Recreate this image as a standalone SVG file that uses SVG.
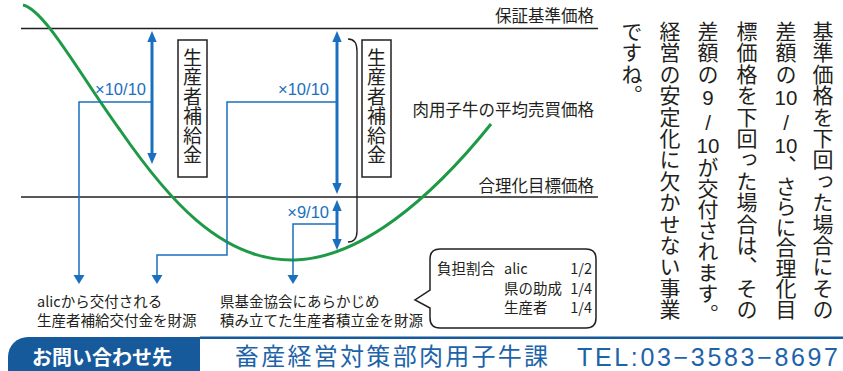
<svg xmlns="http://www.w3.org/2000/svg" width="843" height="371" viewBox="0 0 843 371">
<style>
.jp{font-family:"Noto Sans CJK JP","Noto Sans",sans-serif;fill:#231f20}
.vt{writing-mode:vertical-rl;font-family:"Noto Sans CJK JP",sans-serif;fill:#231f20;font-size:21px;letter-spacing:0.4px}
.vb{writing-mode:vertical-rl;font-family:"Noto Sans CJK JP",sans-serif;fill:#231f20;font-size:19px;letter-spacing:0.5px}
.num{font-family:"Liberation Sans",Arial,sans-serif;fill:#231f20}
.blu{font-family:"Liberation Sans",Arial,sans-serif;fill:#1a70bf;font-size:16.5px}
.hline{stroke:#231f20;stroke-width:1.3;fill:none}
.thick{stroke:#1a70bf;stroke-width:3;fill:none}
.thin{stroke:#1a70bf;stroke-width:1.5;fill:none}
.head{fill:#1a70bf}
.box{fill:#fff;stroke:#231f20;stroke-width:1.5}
</style>
<rect width="843" height="371" fill="#fff"/>

<g id="price-lines">
<line class="hline" x1="21" y1="28.5" x2="598" y2="28.5"/>
<line class="hline" x1="21" y1="197" x2="598" y2="197"/>
<text class="jp" x="594" y="22" font-size="16.5" text-anchor="end">保証基準価格</text>
<text class="jp" x="594" y="192" font-size="16.5" text-anchor="end">合理化目標価格</text>
</g>

<g id="market-curve">
<path d="M23,5 C45,10 80,75 120,130 C165,195 220,262 295,260 C360,258 430,200 491,124" fill="none" stroke="#1e9a46" stroke-width="3"/>
<text class="jp" x="594" y="116" font-size="16.5" text-anchor="end">肉用子牛の平均売買価格</text>
</g>

<g id="connectors">
<line class="thick" x1="152" y1="40" x2="152" y2="155"/>
<polygon class="head" points="152,31 147.3,42 156.7,42"/>
<polygon class="head" points="152,164 147.3,153 156.7,153"/>
<line class="thick" x1="337" y1="40" x2="337" y2="185"/>
<polygon class="head" points="337,31 332.3,42 341.7,42"/>
<polygon class="head" points="337,194 332.3,183 341.7,183"/>
<line class="thick" x1="337" y1="209" x2="337" y2="241"/>
<polygon class="head" points="337,200 332.3,211 341.7,211"/>
<polygon class="head" points="337,250 332.3,239 341.7,239"/>
<path class="thin" d="M152,102 H79 V277"/>
<polygon class="head" points="79,284 73.5,275 84.5,275"/>
<path class="thin" d="M337,102 H227 V255 H157 V277"/>
<polygon class="head" points="157,284 151.5,275 162.5,275"/>
<path class="thin" d="M337,224 H293 V277"/>
<polygon class="head" points="293,284 287.5,275 298.5,275"/>
<path d="M348,39 Q357,39 357,51 L357,231 Q357,242 348,242" fill="none" stroke="#231f20" stroke-width="1.4"/>
</g>

<g id="rate-labels">
<text class="blu" x="146" y="95" text-anchor="end">×10/10</text>
<text class="blu" x="329" y="95" text-anchor="end">×10/10</text>
<text class="blu" x="329" y="218" text-anchor="end">×9/10</text>
</g>

<g id="box-left">
<rect class="box" x="178" y="40" width="29" height="137"/>
<text class="vb" x="192.5" y="48">生産者補給金</text>
</g>

<g id="box-right">
<rect class="box" x="362" y="40" width="29" height="137"/>
<text class="vb" x="376.5" y="48">生産者補給金</text>
</g>

<g id="source-alic">
<text class="jp" x="37" y="307" font-size="14.5">alicから交付される</text>
<text class="jp" x="37" y="326" font-size="14.5">生産者補給交付金を財源</text>
</g>

<g id="source-pref">
<text class="jp" x="220" y="307" font-size="14.5">県基金協会にあらかじめ</text>
<text class="jp" x="220" y="326" font-size="14.5">積み立てた生産者積立金を財源</text>
</g>

<g id="share-bubble">
<path d="M440,249 H586 Q596,249 596,259 V318 Q596,328 586,328 H440 Q430,328 430,318 V308 L415,300 L430,290 V259 Q430,249 440,249 Z" fill="#fff" stroke="#231f20" stroke-width="1.5"/>
<text class="jp" x="437" y="274" font-size="14.5">負担割合</text>
<text class="jp" x="504" y="274" font-size="14.5">alic</text>
<text class="jp" x="592" y="274" font-size="14.5" text-anchor="end">1/2</text>
<text class="jp" x="504" y="294" font-size="14.5">県の助成</text>
<text class="jp" x="592" y="294" font-size="14.5" text-anchor="end">1/4</text>
<text class="jp" x="504" y="313" font-size="14.5">生産者</text>
<text class="jp" x="592" y="313" font-size="14.5" text-anchor="end">1/4</text>
</g>

<g id="explanation">
<text class="vt" x="823" y="20.5">基準価格を下回った場合にその</text>
<text class="vt" x="786" y="20.5">差額の</text>
<text class="num" x="786" y="105" font-size="20.5" text-anchor="middle">10</text>
<text class="num" x="786" y="130" font-size="20.5" text-anchor="middle">/</text>
<text class="num" x="786" y="153" font-size="20.5" text-anchor="middle">10</text>
<text class="vt" x="786" y="155" style="letter-spacing:-0.5px">、さらに合理化目</text>
<text class="vt" x="747" y="20.5">標価格を下回った場合は、その</text>
<text class="vt" x="708" y="20.5">差額の</text>
<text class="num" x="708" y="105" font-size="20.5" text-anchor="middle">9</text>
<text class="num" x="708" y="130" font-size="20.5" text-anchor="middle">/</text>
<text class="num" x="708" y="153" font-size="20.5" text-anchor="middle">10</text>
<text class="vt" x="708" y="157" style="letter-spacing:0">が交付されます。</text>
<text class="vt" x="670" y="20.5">経営の安定化に欠かせない事業</text>
<text class="vt" x="632" y="20.5">ですね。</text>
</g>

<g id="contact">
<path d="M200,337 H28 A20,20 0 0 0 8,357 V371 H200 Z" fill="#175a9c"/>
<rect x="200" y="336.5" width="643" height="2.5" fill="#175a9c"/>
<text x="32" y="365" font-family="'Noto Sans CJK JP',sans-serif" font-weight="bold" font-size="20" fill="#fff">お問い合わせ先</text>
<text x="235" y="365" font-family="'Noto Sans CJK JP',sans-serif" font-size="24" fill="#1d63a9" textLength="313" lengthAdjust="spacing">畜産経営対策部肉用子牛課</text>
<text x="577" y="366" font-family="'Liberation Sans',Arial,sans-serif" font-size="25" fill="#1d63a9" textLength="261" lengthAdjust="spacing">TEL:03−3583−8697</text>
</g>
</svg>
